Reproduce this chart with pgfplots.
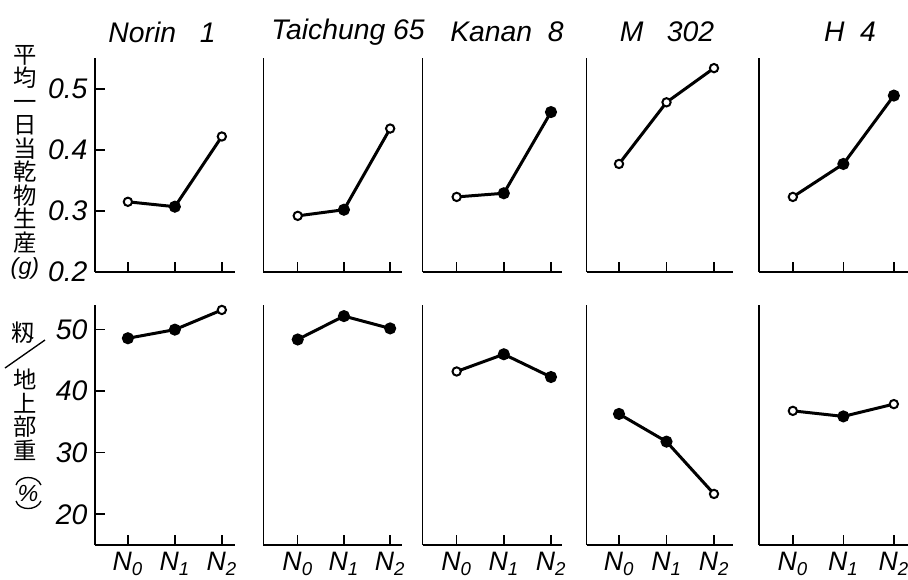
\documentclass[border=0pt]{standalone}
\usepackage{pgfplots}
\pgfplotsset{compat=1.18}
\usepackage{fontspec}
\setmainfont{Liberation Sans}
\newfontfamily\cjk{Noto Sans CJK JP}
\pgfplotsset{
 panel/.style={scale only axis, axis x line=bottom, axis y line=left,
   axis line style={-, line width=0.9pt, black}, tick align=inside,
   major tick length=6pt, tick style={line width=0.9pt, black},
   xtick={0,1,2}, anchor=south west, clip=false,
   /pgf/number format/assume math mode=true,
   ticklabel style={font=\itshape\fontsize{17}{17}\selectfont}},
 toprow/.style={panel, ymin=0.2, ymax=0.55, height=128.2pt, xticklabels=\empty},
 botrow/.style={panel, ymin=15, ymax=54, height=144pt,
   xticklabels={\textit{N}\textsubscript{\textit{0}},\textit{N}\textsubscript{\textit{1}},\textit{N}\textsubscript{\textit{2}}},
   xticklabel style={yshift=-1pt, font=\itshape\fontsize{16}{16}\selectfont}},
 noy/.style={ytick=\empty},
 ser/.style={black, line width=1.8pt, scatter, point meta=explicit symbolic,
   scatter/classes={o={mark=*, draw=black, fill=white, mark size=2.5pt, line width=1.2pt},
                    f={mark=*, draw=black, fill=black, mark size=2.7pt}}},
}
\begin{document}
\begin{tikzpicture}
\useasboundingbox (0,0) rectangle (908*0.6pt,-579*0.6pt);
% ---------- top row ----------
\begin{axis}[toprow, at={(95*0.6pt,-272*0.6pt)}, width=84pt, xmin=-0.70, xmax=2.28,
  ytick={0.2,0.3,0.4,0.5}, yticklabels={0.2,0.3,0.4,0.5}, yticklabel style={xshift=-1pt}]
\addplot[ser] table[meta=c]{
x y c
0 0.315 o
1 0.307 f
2 0.422 o
};
\end{axis}
\begin{axis}[toprow, noy, at={(263.3*0.6pt,-272*0.6pt)}, width=83.04pt, xmin=-0.745, xmax=2.25]
\addplot[ser] table[meta=c]{
x y c
0 0.292 o
1 0.302 f
2 0.435 o
};
\end{axis}
\begin{axis}[toprow, noy, at={(422.7*0.6pt,-272*0.6pt)}, width=83.76pt, xmin=-0.72, xmax=2.24]
\addplot[ser] table[meta=c]{
x y c
0 0.323 o
1 0.329 f
2 0.462 f
};
\end{axis}
\begin{axis}[toprow, noy, at={(586.7*0.6pt,-272*0.6pt)}, width=87.78pt, xmin=-0.68, xmax=2.4]
\addplot[ser] table[meta=c]{
x y c
0 0.377 o
1 0.478 o
2 0.534 o
};
\end{axis}
\begin{axis}[toprow, noy, at={(759*0.6pt,-272*0.6pt)}, width=89.4pt, xmin=-0.67, xmax=2.28]
\addplot[ser] table[meta=c]{
x y c
0 0.323 o
1 0.377 f
2 0.489 f
};
\end{axis}
% ---------- bottom row ----------
\begin{axis}[botrow, at={(95*0.6pt,-545*0.6pt)}, width=84pt, xmin=-0.70, xmax=2.28,
  ytick={20,30,40,50}, yticklabels={20,30,40,50}, yticklabel style={xshift=-1pt}]
\addplot[ser] table[meta=c]{
x y c
0 48.6 f
1 50.0 f
2 53.2 o
};
\end{axis}
\begin{axis}[botrow, noy, at={(263.3*0.6pt,-545*0.6pt)}, width=83.04pt, xmin=-0.745, xmax=2.25]
\addplot[ser] table[meta=c]{
x y c
0 48.4 f
1 52.2 f
2 50.2 f
};
\end{axis}
\begin{axis}[botrow, noy, at={(422.7*0.6pt,-545*0.6pt)}, width=83.76pt, xmin=-0.72, xmax=2.24]
\addplot[ser] table[meta=c]{
x y c
0 43.2 o
1 46.0 f
2 42.3 f
};
\end{axis}
\begin{axis}[botrow, noy, at={(586.7*0.6pt,-545*0.6pt)}, width=87.78pt, xmin=-0.68, xmax=2.4]
\addplot[ser] table[meta=c]{
x y c
0 36.3 f
1 31.8 f
2 23.3 o
};
\end{axis}
\begin{axis}[botrow, noy, at={(759*0.6pt,-545*0.6pt)}, width=89.4pt, xmin=-0.67, xmax=2.28]
\addplot[ser] table[meta=c]{
x y c
0 36.8 o
1 35.9 f
2 37.9 o
};
\end{axis}
\begin{scope}[x=0.6pt, y=-0.6pt]
% ---------- titles ----------
\begin{scope}[every node/.style={font=\itshape\fontsize{17}{17}\selectfont}]
\node at (162,32) {Norin\ \ \ 1};
\node at (348,32) {Taichung\ 65};
\node at (507,32) {Kanan\ \ 8};
\node at (667,32) {M\ \ \ 302};
\node at (850,32) {H\ \ 4};
\end{scope}
% ---------- y labels ----------
\node[align=center, inner sep=0pt, anchor=north, font=\fontsize{14}{14.1}\selectfont] at (25,45)
 {\cjk 平\\\cjk 均\\\cjk 一\\\cjk 日\\\cjk 当\\\cjk 乾\\\cjk 物\\\cjk 生\\\cjk 産\\\itshape(g)};
\node[inner sep=0pt, font=\fontsize{14}{14}\selectfont] at (23,333) {\cjk 籾};
\draw[line width=0.8pt] (5,368) -- (45,340);
\node[align=center, inner sep=0pt, anchor=north, font=\fontsize{14}{14.1}\selectfont] at (25,369)
 {\cjk 地\\\cjk 上\\\cjk 部\\\cjk 重};
\draw[line width=0.8pt] (16,485) .. controls (19,475) and (37,475) .. (41,485);
\node[inner sep=0pt, font=\itshape\fontsize{14}{14}\selectfont] at (28,493) {\%};
\draw[line width=0.8pt] (16,501) .. controls (19,511) and (37,511) .. (41,501);
\end{scope}
\end{tikzpicture}
\end{document}
